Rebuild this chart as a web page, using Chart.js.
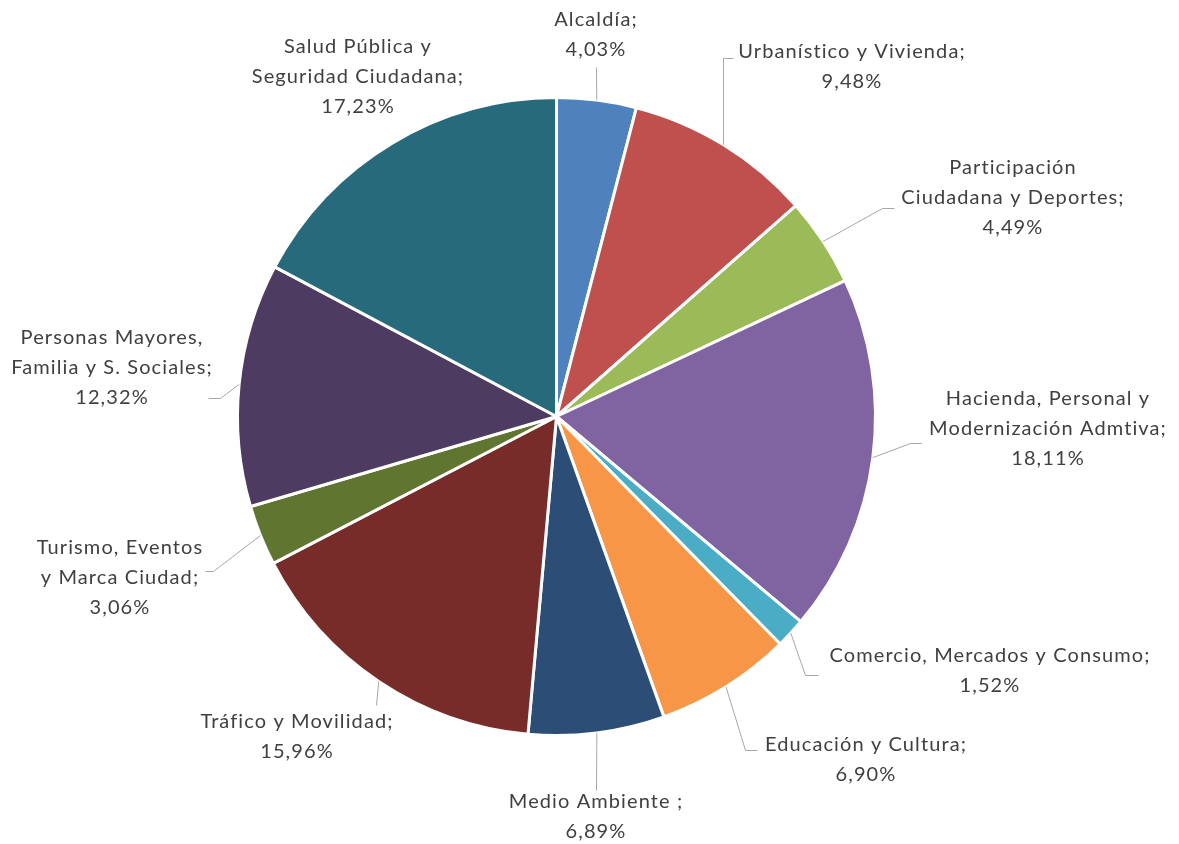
<!DOCTYPE html>
<html>
<head>
<meta charset="utf-8">
<title>Presupuesto por áreas</title>
<style>
body { margin: 0; background: white; }
#pie { display: block; }
</style>
</head>
<body>
<canvas id="pie" width="1179" height="844"></canvas>
<script src="https://cdn.jsdelivr.net/npm/chart.js@4/dist/chart.umd.min.js"></script>
<script>
// data (percent, Spanish formatting)
var areas = [
	["Alcaldía;"],
	["Urbanístico y Vivienda;"],
	["Participación", "Ciudadana y Deportes;"],
	["Hacienda, Personal y", "Modernización Admtiva;"],
	["Comercio, Mercados y Consumo;"],
	["Educación y Cultura;"],
	["Medio Ambiente ;"],
	["Tráfico y Movilidad;"],
	["Turismo, Eventos", "y Marca Ciudad;"],
	["Personas Mayores,", "Familia y S. Sociales;"],
	["Salud Pública y", "Seguridad Ciudadana;"]
];
var percents = [4.03, 9.48, 4.49, 18.11, 1.52, 6.90, 6.89, 15.96, 3.06, 12.32, 17.23];
var sliceColors = ["#4F81BD", "#C0504D", "#9BBB59", "#8064A2", "#4BACC6", "#F79646",
	"#2C4D75", "#772C2A", "#5F7530", "#4D3B62", "#276A7C"];

// where the labels sit (centre of first text line) and the leader elbow/end, px
var labelLayout = [
	{x: 596, y: 20, leader: [[596, 67]]},
	{x: 852, y: 52, leader: [[723, 58], [733, 58]]},
	{x: 1013, y: 168, leader: [[882, 208], [894, 208]]},
	{x: 1048, y: 399, leader: [[910, 443], [921, 443]]},
	{x: 990, y: 656, leader: [[805, 675], [818, 675]]},
	{x: 866, y: 745, leader: [[745, 750], [757, 750]]},
	{x: 596, y: 802, leader: [[596, 790]]},
	{x: 297, y: 722, leader: [[376, 705]]},
	{x: 120, y: 548, leader: [[213, 571], [205, 571]]},
	{x: 112, y: 338, leader: [[220, 398], [208, 398]]},
	{x: 358, y: 47, leader: null}
];

function fmt(v) {
	return v.toFixed(2).replace(".", ",") + "%";
}

var labelPlugin = {
	id: "excelLabels",
	afterDraw: function(chart) {
		var ctx = chart.ctx;
		var arcs = chart.getDatasetMeta(0).data;
		ctx.save();
		//leader lines first
		ctx.strokeStyle = "#A6A6A6";
		ctx.lineWidth = 1;
		arcs.forEach(function(arc, i) {
			var lay = labelLayout[i];
			if (!lay.leader) return;
			var p = arc.getProps(["x", "y", "startAngle", "endAngle", "outerRadius"], true);
			var mid = (p.startAngle + p.endAngle) / 2;
			ctx.beginPath();
			ctx.moveTo(p.x + Math.cos(mid) * p.outerRadius, p.y + Math.sin(mid) * p.outerRadius);
			lay.leader.forEach(function(pt) { ctx.lineTo(pt[0] + 0.5, pt[1] + 0.5); });
			ctx.stroke();
		});
		//then text
		ctx.fillStyle = "#404040";
		ctx.font = "20px Lato";
		ctx.letterSpacing = "1.1px";
		ctx.textAlign = "center";
		ctx.textBaseline = "middle";
		arcs.forEach(function(arc, i) {
			var lay = labelLayout[i];
			var lines = areas[i].concat([fmt(percents[i])]);
			lines.forEach(function(t, k) {
				ctx.fillText(t, lay.x, lay.y + k * 30);
			});
		});
		ctx.restore();
	}
};

var ctx = document.getElementById("pie").getContext("2d");
var myChart = new Chart(ctx, {
	type: "pie",
	data: {
		labels: areas.map(function(a) { return a.join(" "); }),
		datasets: [{
			data: percents,
			backgroundColor: sliceColors,
			borderColor: "#FFFFFF",
			borderWidth: 3
		}]
	},
	options: {
		responsive: false,
		animation: false,
		layout: {
			padding: {left: 236, right: 302, top: 96, bottom: 107}
		},
		plugins: {
			legend: {display: false},
			tooltip: {enabled: false}
		}
	},
	plugins: [labelPlugin]
});
</script>
</body>
</html>
